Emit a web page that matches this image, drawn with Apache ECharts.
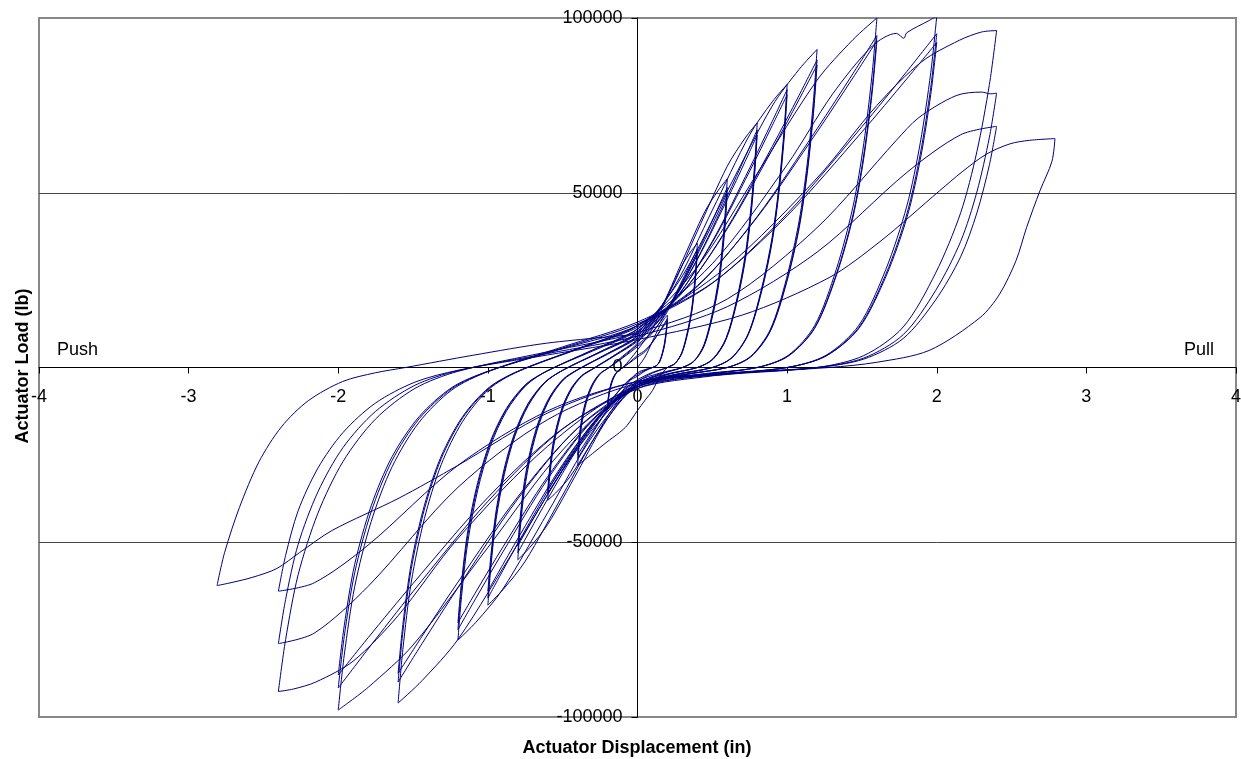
<!DOCTYPE html>
<html><head><meta charset="utf-8">
<script src="https://cdn.jsdelivr.net/npm/echarts@6.0.0/dist/echarts.min.js"></script>
<style>html,body{margin:0;padding:0;background:#fff}#c{width:1241px;height:759px}</style>
</head><body><div id="c"></div>
<script>
// Axis ticks
const xTickValues = [-4,-3,-2,-1,0,1,2,3,4];
const xTickLabels = ['-4','-3','-2','-1','0','1','2','3','4'];
const yTickValues = [-100000,-50000,0,50000,100000];
const yTickLabels = ['-100000','-50000','0','50000','100000'];

// Hysteresis record: [displacement (in), load (lb)], grouped by target amplitude
const g020 = [
[0,0],[0.05,3000],[0.1,7500],[0.15,12000],[0.18,14000],[0.2,15000],
[0.196,12600],[0.189,9600],[0.18,6900],[0.166,4200],[0.148,1800],[0.126,500],[0.1,0],
[0.05,-600],[0,-1500],
[-0.05,-3600],[-0.1,-6750],[-0.15,-9900],[-0.18,-11300],[-0.2,-12000],
[-0.196,-10100],[-0.189,-7700],[-0.178,-5400],[-0.164,-3500],[-0.146,-1900],[-0.124,-800],[-0.1,-100],
[-0.05,1400],[0,3000],[0.05,4500],[0.1,7200],[0.15,10500],[0.18,12600],[0.2,14000],
[0.196,11800],[0.189,9000],[0.18,6400],[0.166,3900],[0.148,1700],[0.126,500],[0.1,0],
[0.05,-800],[0,-2000],
[-0.05,-3300],[-0.1,-5400],[-0.15,-8100],[-0.18,-9800],[-0.2,-11000],
[-0.196,-9200],[-0.189,-7000],[-0.178,-5000],[-0.164,-3200],[-0.146,-1800],[-0.124,-700],[-0.1,-100],
[-0.05,1600],[0,3500],[0.05,4900],[0.1,7300],[0.15,10300],[0.18,12200],[0.2,13500],
[0.196,11300],[0.189,8600],[0.18,6200],[0.166,3800],[0.148,1600],[0.126,500],[0.1,0],
[0.05,-1000],[0,-2500],
[-0.05,-3600],[-0.1,-5500],[-0.15,-7900],[-0.18,-9500],[-0.2,-10500],
[-0.196,-8800],[-0.189,-6700],[-0.178,-4700],[-0.164,-3000],[-0.146,-1700],[-0.124,-700],[-0.1,-100]
];
const g040 = [
[-0.05,2300],[0,5000],[0.1,11100],[0.2,20300],[0.3,29400],[0.36,33400],[0.4,35500],
[0.392,29800],[0.378,22700],[0.36,16300],[0.332,9900],[0.296,4300],[0.252,1200],[0.2,0],
[0.15,-2500],[0.1,-6600],[0.05,-9400],[0,-12300],[-0.07,-16600],[-0.12,-18600],[-0.21,-21500],[-0.3,-24600],[-0.4,-28000],
[-0.392,-23500],[-0.378,-17900],[-0.356,-12600],[-0.328,-8100],[-0.292,-4500],[-0.248,-1800],[-0.2,-300],
[-0.1,2700],[0,6000],[0.1,9900],[0.2,16600],[0.3,25000],[0.36,30400],[0.4,34000],
[0.392,28600],[0.378,21800],[0.36,15600],[0.332,9500],[0.296,4100],[0.252,1200],[0.2,0],
[0.1,-1400],[0,-3500],
[-0.1,-6650],[-0.2,-12050],[-0.3,-18800],[-0.36,-23100],[-0.4,-26000],
[-0.392,-21800],[-0.378,-16600],[-0.356,-11700],[-0.328,-7500],[-0.292,-4200],[-0.248,-1700],[-0.2,-300],
[-0.1,2900],[0,6500],[0.1,10200],[0.2,16000],[0.3,24500],[0.36,29600],[0.4,33000],
[0.392,27700],[0.378,21100],[0.36,15200],[0.332,9200],[0.296,4000],[0.252,1200],[0.2,0],
[0.1,-1600],[0,-4000],
[-0.1,-6900],[-0.2,-12000],[-0.3,-18300],[-0.36,-22300],[-0.4,-25000],
[-0.392,-21000],[-0.378,-16000],[-0.356,-11300],[-0.328,-7300],[-0.292,-4000],[-0.248,-1600],[-0.2,-300]
];
const g060 = [
[-0.1,3200],[0,7000],[0.15,16400],[0.3,30500],[0.45,44600],[0.54,50700],[0.6,54000],
[0.588,45400],[0.567,34600],[0.54,24800],[0.498,15100],[0.444,6500],[0.378,1900],[0.3,0],
[0.15,-1600],[0,-4000],
[-0.15,-10800],[-0.3,-21000],[-0.45,-31200],[-0.54,-35600],[-0.6,-38000],
[-0.588,-31900],[-0.567,-24300],[-0.534,-17100],[-0.492,-11000],[-0.438,-6100],[-0.372,-2500],[-0.3,-500],
[-0.15,3400],[0,7500],[0.15,13700],[0.3,24200],[0.45,37400],[0.54,45800],[0.6,51500],
[0.588,43300],[0.567,33000],[0.54,23700],[0.498,14400],[0.444,6200],[0.378,1800],[0.3,0],
[0.15,-1800],[0,-4500],
[-0.15,-8900],[-0.3,-16500],[-0.45,-25900],[-0.54,-31900],[-0.6,-36000],
[-0.588,-30200],[-0.567,-23000],[-0.534,-16200],[-0.492,-10400],[-0.438,-5800],[-0.372,-2300],[-0.3,-400],
[-0.15,3600],[0,8000],[0.15,13900],[0.3,24000],[0.45,36600],[0.54,44500],[0.6,50000],
[0.588,42000],[0.567,32000],[0.54,23000],[0.498,14000],[0.444,6000],[0.378,1800],[0.3,0],
[0.15,-2000],[0,-5000],
[-0.15,-9200],[-0.3,-16400],[-0.45,-25400],[-0.54,-31100],[-0.6,-35000],
[-0.588,-29400],[-0.567,-22400],[-0.534,-15800],[-0.492,-10200],[-0.438,-5600],[-0.372,-2300],[-0.3,-400]
];
const g080 = [
[-0.15,3600],[0,8000],[0.2,20400],[0.4,39000],[0.6,57600],[0.72,65700],[0.8,70000],
[0.784,58800],[0.756,44800],[0.72,32200],[0.664,19600],[0.592,8400],[0.504,2500],[0.4,0],
[0.2,-1800],[0,-4500],
[-0.2,-14600],[-0.4,-29800],[-0.6,-44900],[-0.72,-51500],[-0.8,-55000],
[-0.784,-46200],[-0.756,-35200],[-0.712,-24800],[-0.656,-16000],[-0.584,-8800],[-0.496,-3600],[-0.4,-700],
[-0.2,3800],[0,8500],[0.2,16800],[0.4,31100],[0.6,49000],[0.72,60300],[0.8,68000],
[0.784,57100],[0.756,43500],[0.72,31300],[0.664,19000],[0.592,8200],[0.504,2400],[0.4,0],
[0.2,-2000],[0,-5000],
[-0.2,-11700],[-0.4,-23200],[-0.6,-37600],[-0.72,-46800],[-0.8,-53000],
[-0.784,-44500],[-0.756,-33900],[-0.712,-23900],[-0.656,-15400],[-0.584,-8500],[-0.496,-3400],[-0.4,-600],
[-0.2,4000],[0,9000],[0.2,17100],[0.4,30900],[0.6,48100],[0.72,59000],[0.8,66500],
[0.784,55900],[0.756,42600],[0.72,30600],[0.664,18600],[0.592,8000],[0.504,2300],[0.4,0],
[0.2,-2000],[0,-5000],
[-0.2,-11400],[-0.4,-22500],[-0.6,-36300],[-0.72,-45000],[-0.8,-51000],
[-0.784,-42800],[-0.756,-32600],[-0.712,-23000],[-0.656,-14800],[-0.584,-8200],[-0.496,-3300],[-0.4,-600]
];
const g100 = [
[-0.2,4000],[0,9000],[0.25,23400],[0.5,45000],[0.75,66600],[0.9,76000],[1.0,81000],
[0.98,68000],[0.945,51800],[0.9,37300],[0.83,22700],[0.74,9700],[0.63,2800],[0.5,0],
[0.25,-2000],[0,-5000],
[-0.25,-17600],[-0.5,-36500],[-0.75,-55400],[-0.9,-63600],[-1.0,-68000],
[-0.98,-57100],[-0.945,-43500],[-0.89,-30600],[-0.82,-19700],[-0.73,-10900],[-0.62,-4400],[-0.5,-800],
[-0.25,4300],[0,9500],[0.25,19300],[0.5,36100],[0.75,57100],[0.9,70400],[1.0,79500],
[0.98,66800],[0.945,50900],[0.9,36600],[0.83,22300],[0.74,9500],[0.63,2800],[0.5,0],
[0.25,-2000],[0,-5000],
[-0.25,-13500],[-0.5,-28200],[-0.75,-46500],[-0.9,-58100],[-1.0,-66000],
[-0.98,-55400],[-0.945,-42200],[-0.89,-29700],[-0.82,-19100],[-0.73,-10600],[-0.62,-4300],[-0.5,-800],
[-0.25,4500],[0,10000],[0.25,19500],[0.5,35800],[0.75,56200],[0.9,69200],[1.0,78000],
[0.98,65500],[0.945,49900],[0.9,35900],[0.83,21800],[0.74,9400],[0.63,2700],[0.5,0],
[0.25,-2200],[0,-5500],
[-0.25,-13700],[-0.5,-27700],[-0.75,-45300],[-0.9,-56400],[-1.0,-64000],
[-0.98,-53800],[-0.945,-41000],[-0.89,-28800],[-0.82,-18600],[-0.73,-10200],[-0.62,-4200],[-0.5,-800]
];
const g120 = [
[-0.25,4500],[0,10000],[0.3,26200],[0.6,50500],[0.9,74800],[1.08,85300],[1.2,91000],
[1.176,76400],[1.134,58200],[1.08,41900],[0.996,25500],[0.888,10900],[0.756,3200],[0.6,0],
[0.3,-2000],[0,-5000],
[-0.3,-19600],[-0.6,-41500],[-0.9,-63400],[-1.08,-72900],[-1.2,-78000],
[-1.176,-65500],[-1.134,-49900],[-1.068,-35100],[-0.984,-22600],[-0.876,-12500],[-0.744,-5100],[-0.6,-900],
[-0.3,4700],[0,10500],[0.3,21400],[0.6,40000],[0.9,63200],[1.08,77900],[1.2,88000],
[1.176,73900],[1.134,56300],[1.08,40500],[0.996,24600],[0.888,10600],[0.756,3100],[0.6,0],
[0.3,-2200],[0,-5500],
[-0.3,-15200],[-0.6,-31900],[-0.9,-52800],[-1.08,-66000],[-1.2,-75000],
[-1.176,-63000],[-1.134,-48000],[-1.068,-33800],[-0.984,-21800],[-0.876,-12000],[-0.744,-4900],[-0.6,-900],
[-0.3,5000],[0,11000],[0.3,21600],[0.6,39700],[0.9,62300],[1.08,76700],[1.2,86500],
[1.176,72700],[1.134,55400],[1.08,39800],[0.996,24200],[0.888,10400],[0.756,3000],[0.6,0],
[0.3,-2200],[0,-5500],
[-0.3,-15000],[-0.6,-31200],[-0.9,-51400],[-1.08,-64200],[-1.2,-73000],
[-1.176,-61300],[-1.134,-46700],[-1.068,-32900],[-0.984,-21200],[-0.876,-11700],[-0.744,-4700],[-0.6,-900]
];
const g160 = [
[-0.3,5000],[0,11000],[0.4,28800],[0.8,55500],[1.2,82200],[1.44,93800],[1.6,100000],
[1.568,84000],[1.512,64000],[1.44,46000],[1.328,28000],[1.184,12000],[1.008,3500],[0.8,0],
[0.4,-2000],[0,-5000],
[-0.4,-23200],[-0.8,-50500],[-1.2,-77800],[-1.44,-89600],[-1.6,-96000],
[-1.568,-80600],[-1.512,-61400],[-1.424,-43200],[-1.312,-27800],[-1.168,-15400],[-0.992,-6200],[-0.8,-1200],
[-0.4,5200],[0,11500],[0.4,23200],[0.8,43200],[1.2,68300],[1.44,84100],[1.6,95000],
[1.568,79800],[1.512,60800],[1.44,43700],[1.328,26600],[1.184,11400],[1.008,3300],[0.8,0],
[0.4,-2200],[0,-5500],
[-0.4,-17300],[-0.8,-37600],[-1.2,-63000],[-1.44,-79000],[-1.6,-90000],
[-1.568,-75600],[-1.512,-57600],[-1.424,-40500],[-1.312,-26100],[-1.168,-14400],[-0.992,-5900],[-0.8,-1100],
[-0.4,5400],[0,12000],[0.4,23400],[0.8,43000],[1.2,67400],[1.44,82900],[1.6,93500],
[1.568,78500],[1.512,59800],[1.44,43000],[1.328,26200],[1.184,11200],[1.008,3300],[0.8,0],
[0.4,-2400],[0,-6000],
[-0.4,-17400],[-0.8,-37000],[-1.2,-61400],[-1.44,-76900],[-1.6,-87500],
[-1.568,-73500],[-1.512,-56000],[-1.424,-39400],[-1.312,-25400],[-1.168,-14000],[-0.992,-5700],[-0.8,-1100]
];
const g200 = [
[-0.4,5400],[0,12000],[0.5,29700],[1.0,58000],[1.3,78000],[1.57,92000],[1.73,95600],[1.78,94200],[1.8,95800],[1.95,99300],[2.0,100500],
[1.96,84400],[1.89,64300],[1.8,46200],[1.66,28100],[1.48,12100],[1.26,3500],[1.0,0],
[0.5,-2000],[0,-5000],
[-0.5,-23600],[-1.0,-51500],[-1.5,-79400],[-1.8,-91500],[-2.0,-98000],
[-1.96,-82300],[-1.89,-62700],[-1.78,-44100],[-1.64,-28400],[-1.46,-15700],[-1.24,-6400],[-1.0,-1200],
[-0.5,5600],[0,12500],[0.5,24100],[1.0,44000],[1.5,68900],[1.8,84700],[2.0,95500],
[1.96,80200],[1.89,61100],[1.8,43900],[1.66,26700],[1.48,11500],[1.26,3300],[1.0,0],
[0.5,-2200],[0,-5500],
[-0.5,-17600],[-1.0,-38300],[-1.5,-64100],[-1.8,-80500],[-2.0,-91700],
[-1.96,-77000],[-1.89,-58700],[-1.78,-41300],[-1.64,-26600],[-1.46,-14700],[-1.24,-6000],[-1.0,-1100],
[-0.5,5900],[0,13000],[0.5,24200],[1.0,43400],[1.5,67400],[1.8,82600],[2.0,93000],
[1.96,78100],[1.89,59500],[1.8,42800],[1.66,26000],[1.48,11200],[1.26,3300],[1.0,0],
[0.5,-2400],[0,-6000],
[-0.5,-17500],[-1.0,-37200],[-1.5,-61800],[-1.8,-77300],[-2.0,-88000],
[-1.96,-73900],[-1.89,-56300],[-1.78,-39600],[-1.64,-25500],[-1.46,-14100],[-1.24,-5700],[-1.0,-1100]
];
const g240 = [
[-0.5,5400],[0,12000],[0.6,28900],[1.2,54200],[1.6,75000],[1.9,87500],[2.15,93600],[2.3,96000],[2.4,96400],
[2.352,81000],[2.268,61700],[2.16,44300],[1.992,27000],[1.776,11600],[1.512,3400],[1.2,0],
[0.6,-2000],[0,-5000],
[-0.6,-22500],[-1.2,-48900],[-1.6,-71000],[-1.9,-84000],[-2.15,-90000],[-2.3,-92000],[-2.4,-92700],
[-2.352,-77900],[-2.268,-59300],[-2.136,-41700],[-1.968,-26900],[-1.752,-14800],[-1.488,-6000],[-1.2,-1100],
[-0.6,4500],[0,10000],[0.6,19600],[1.2,40000],[1.73,65000],[1.88,71500],[2.13,77800],[2.3,78800],[2.36,78300],[2.4,78500],
[2.352,65900],[2.268,50200],[2.16,36100],[1.992,22000],[1.776,9400],[1.512,2700],[1.2,0],
[0.6,-1800],[0,-4500],
[-0.6,-14900],[-1.2,-34300],[-1.8,-62600],[-2.16,-76000],[-2.4,-79000],
[-2.352,-66400],[-2.268,-50600],[-2.136,-35600],[-1.968,-22900],[-1.752,-12600],[-1.488,-5100],[-1.2,-900],
[-0.6,4000],[0,9000],[0.6,17400],[1.2,33000],[1.8,55800],[2.16,66600],[2.4,69000],
[2.352,58000],[2.268,44200],[2.16,31700],[1.992,19300],[1.776,8300],[1.512,2400],[1.2,0],
[0.6,-1600],[0,-4000],
[-0.6,-12400],[-1.2,-28000],[-1.8,-50800],[-2.16,-61600],[-2.4,-64000],
[-2.352,-53800],[-2.268,-41000],[-2.136,-28800],[-1.968,-18600],[-1.752,-10200],[-1.488,-4200],[-1.2,-800]
];
const g280 = [
[-0.6,3600],[0,8000],[0.7,15000],[1.28,25700],[1.62,36000],[2.02,50600],[2.17,56000],[2.33,61000],[2.49,64000],[2.62,65000],[2.79,65500],
[2.77,59000],[2.69,50600],[2.6,40000],[2.53,30600],[2.42,21000],[2.29,14300],[1.95,4900],[1.6,1500],[1.28,0],
[0.65,-1600],[0,-4000],
[-0.6,-13000],[-1.2,-28000],[-1.6,-37500],[-2.04,-46600],[-2.26,-53000],[-2.41,-57500],[-2.57,-60000],[-2.71,-61500],[-2.81,-62400],
[-2.76,-53000],[-2.66,-40000],[-2.53,-27000],[-2.38,-17000],[-2.2,-9500],[-1.97,-4000],[-1.75,-1500],[-1.55,0],[-1.1,3500],[-0.6,7000],[0,9500]
];

const FONT = '"Liberation Sans", Arial, sans-serif';
const LINE_COLOR = '#000080';
const GRID = { left: 39, right: 5, top: 18, bottom: 42 };
const W = 1241, H = 759;
const gridW = W - GRID.left - GRID.right, gridH = H - GRID.top - GRID.bottom;

// split the record into branches at each displacement reversal (the loop tips)
const record = [].concat(g020, g040, g060, g080, g100, g120, g160, g200, g240, g280);
const branches = [];
let cur = [record[0]], dir = 0;
for (let i = 1; i < record.length; i++) {
  const d = Math.sign(record[i][0] - record[i-1][0]);
  if (dir !== 0 && d !== 0 && d !== dir) { branches.push(cur); cur = [record[i-1]]; }
  if (d !== 0) dir = d;
  cur.push(record[i]);
}
branches.push(cur);

const series = branches.map(b => ({
  type: 'line', data: b, smooth: 0.3,
  symbol: 'none', showSymbol: false, silent: true,
  lineStyle: { color: LINE_COLOR, width: 1 }, z: 2
}));

const chart = echarts.init(document.getElementById('c'), null, { renderer: 'canvas' });
chart.setOption({
  animation: false,
  backgroundColor: '#fff',
  grid: Object.assign({ show: true, borderColor: '#888', borderWidth: 2, backgroundColor: 'transparent',
    containLabel: false, outerBoundsMode: 'none' }, GRID),
  xAxis: {
    type: 'value', min: xTickValues[0], max: xTickValues[xTickValues.length-1], interval: 1,
    position: 'bottom', offset: -gridH / 2,
    axisLine: { onZero: false, lineStyle: { color: '#000', width: 1 } },
    axisTick: { show: true, inside: false, length: 6, lineStyle: { color: '#000' } },
    axisLabel: { color: '#000', fontSize: 18, fontFamily: FONT, margin: 21, hideOverlap: false,
      showMinLabel: true, showMaxLabel: true,
      formatter: v => { const i = xTickValues.indexOf(v); return i >= 0 ? xTickLabels[i] : String(v); } },
    splitLine: { show: false }
  },
  yAxis: {
    type: 'value', min: yTickValues[0], max: yTickValues[yTickValues.length-1], interval: 50000,
    position: 'left', offset: -gridW / 2,
    axisLine: { onZero: false, lineStyle: { color: '#000', width: 1 } },
    axisTick: { show: true, inside: false, length: 6, lineStyle: { color: '#000' } },
    axisLabel: { color: '#000', fontSize: 18, fontFamily: FONT, margin: 15, hideOverlap: false,
      showMinLabel: true, showMaxLabel: true,
      formatter: v => { const i = yTickValues.indexOf(v); return i >= 0 ? yTickLabels[i] : String(v); } },
    splitLine: { show: true, showMinLine: false, showMaxLine: false, lineStyle: { color: '#444', width: 1 } }
  },
  graphic: [
    { type: 'text', x: 57, y: 350, z: 10, style: { text: 'Push', font: '18px ' + FONT, fill: '#000', align: 'left', verticalAlign: 'middle', textAlign: 'left', textVerticalAlign: 'middle' } },
    { type: 'text', x: 1214, y: 350, z: 10, style: { text: 'Pull', font: '18px ' + FONT, fill: '#000', align: 'right', verticalAlign: 'middle', textAlign: 'right', textVerticalAlign: 'middle' } },
    { type: 'text', x: 637, y: 748, z: 10, style: { text: 'Actuator Displacement (in)', font: 'bold 18px ' + FONT, fill: '#000', align: 'center', verticalAlign: 'middle', textAlign: 'center', textVerticalAlign: 'middle' } },
    { type: 'text', x: 23, y: 366, rotation: Math.PI / 2, z: 10, style: { text: 'Actuator Load (lb)', font: 'bold 18px ' + FONT, fill: '#000', align: 'center', verticalAlign: 'middle', textAlign: 'center', textVerticalAlign: 'middle' } }
  ],
  series: series
});
</script></body></html>
